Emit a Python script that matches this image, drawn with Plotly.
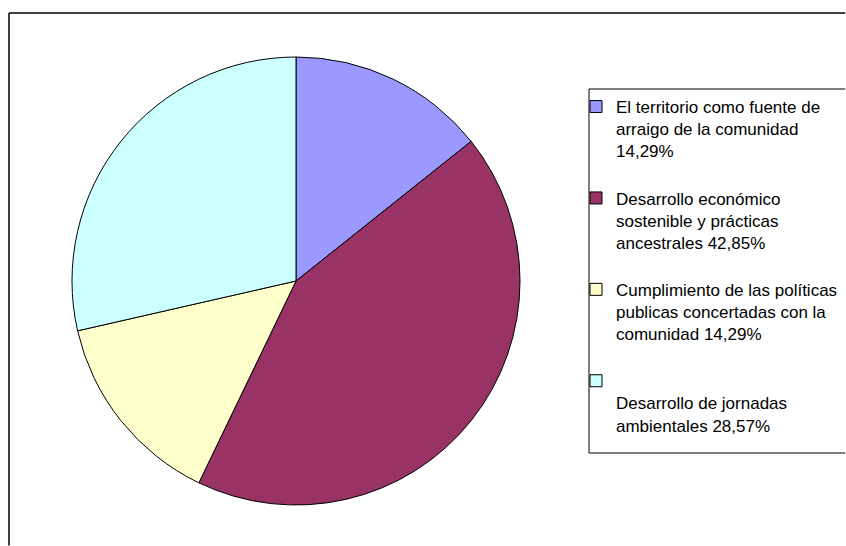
import plotly.graph_objects as go

labels = [
    "El territorio como fuente de<br>arraigo de la comunidad<br>14,29%<br> ",
    "Desarrollo económico<br>sostenible y prácticas<br>ancestrales 42,85%<br> ",
    "Cumplimiento de las políticas<br>publicas concertadas con la<br>comunidad 14,29%<br> ",
    " <br>Desarrollo de jornadas<br>ambientales 28,57%",
]
values = [14.29, 42.85, 14.29, 28.57]
colors = ["#9999FF", "#993366", "#FFFFCC", "#CCFFFF"]

W, H = 846, 546

fig = go.Figure(
    go.Pie(
        labels=labels,
        values=values,
        sort=False,
        direction="clockwise",
        rotation=0,
        textinfo="none",
        hoverinfo="label+percent",
        marker=dict(colors=colors, line=dict(color="black", width=1)),
        domain=dict(x=[72 / W, 520 / W], y=[41 / H, 489 / H]),
    )
)

lx0 = 589 / W
ly0 = (H - 453) / H
ly1 = (H - 89) / H
ox0 = 9 / W
oy1 = (H - 13) / H
xend = 0.999
yend = 0.001


def seg(x0, y0, x1, y1, w):
    return dict(type="line", xref="paper", yref="paper",
                x0=x0, y0=y0, x1=x1, y1=y1,
                line=dict(color="black", width=w), layer="below")


fig.update_layout(
    width=W,
    height=H,
    margin=dict(l=0, r=0, t=0, b=0),
    paper_bgcolor="white",
    plot_bgcolor="white",
    font=dict(family="Liberation Sans, Arial, sans-serif", size=17, color="black"),
    showlegend=True,
    legend=dict(
        x=576 / W,
        y=(H - 89) / H,
        xanchor="left",
        yanchor="top",
        valign="top",
        bgcolor="rgba(0,0,0,0)",
        bordercolor="rgba(0,0,0,0)",
        borderwidth=0,
        font=dict(size=17, color="black"),
    ),
    shapes=[
        seg(ox0, yend, ox0, oy1, 1.5),
        seg(ox0, oy1, xend, oy1, 1.5),
        seg(lx0, ly0, lx0, ly1, 1),
        seg(lx0, ly1, xend, ly1, 1),
        seg(lx0, ly0, xend, ly0, 1),
    ],
)

fig.write_html(
    "out.html",
    config={"displayModeBar": False},
    post_script="document.body.style.margin='0';document.body.style.overflow='hidden';",
)
